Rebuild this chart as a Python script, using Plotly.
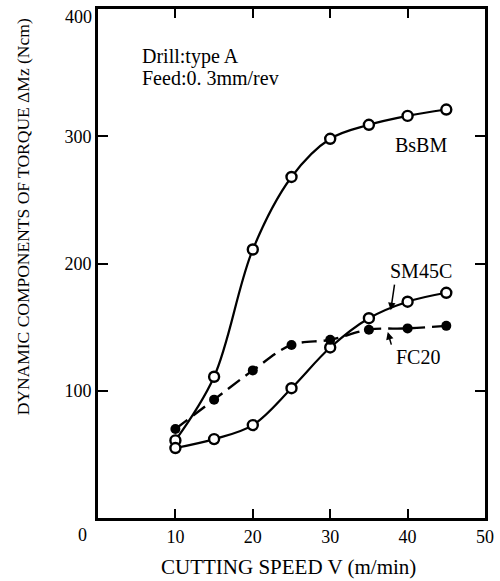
import plotly.graph_objects as go

speed = [10, 15, 20, 25, 30, 35, 40, 45]
bsbm = [61, 111, 211, 268, 298, 309, 316, 321]
sm45c = [55, 62, 73, 102, 134, 157, 170, 177]
fc20 = [70, 93, 116, 136, 140, 148, 149, 151]

x_ticks = [10, 20, 30, 40, 50]
y_ticks = [100, 200, 300, 400]

SERIF = "Liberation Serif"
W, H = 500, 581
L, R, T, B = 98, 12, 6, 63
pw, ph = W - L - R, H - T - B


def px2paper(px, py):
    return (px - L) / pw, (H - B - py) / ph


fig = go.Figure()
fig.add_trace(go.Scatter(
    x=speed, y=bsbm, mode="lines+markers", name="BsBM",
    line=dict(color="black", width=2.2, shape="spline", smoothing=1),
    marker=dict(symbol="circle", size=10, color="white", line=dict(width=2.4, color="black")),
))
fig.add_trace(go.Scatter(
    x=speed, y=sm45c, mode="lines+markers", name="SM45C",
    line=dict(color="black", width=2.2, shape="spline", smoothing=1),
    marker=dict(symbol="circle", size=10, color="white", line=dict(width=2.4, color="black")),
))
fig.add_trace(go.Scatter(
    x=speed, y=fc20, mode="lines+markers", name="FC20",
    line=dict(color="black", width=2.4, shape="spline", smoothing=1, dash="15px,7px"),
    marker=dict(symbol="circle", size=10, color="black"),
))

annotations = []


def text_at(px, py, text, size, angle=0, xanchor="center"):
    ax_, ay_ = px2paper(px, py)
    annotations.append(dict(
        x=ax_, y=ay_, xref="paper", yref="paper", text=text, showarrow=False,
        font=dict(family=SERIF, size=size, color="black"), textangle=angle,
        xanchor=xanchor, yanchor="middle",
    ))


text_at(140, 54, "Drill:type A", 20, xanchor="left")
text_at(140, 75, "Feed:0. 3mm/rev", 20, xanchor="left")
text_at(423, 143, "BsBM", 20)
text_at(423, 270, "SM45C", 20)
text_at(420, 356, "FC20", 20)
text_at(82, 535, "0", 18)
text_at(78, 14, "400", 18)
text_at(290, 567, "CUTTING SPEED V (m/min)", 21)
text_at(22, 215, "DYNAMIC COMPONENTS OF TORQUE ΔMz (Ncm)", 17.5, angle=-90)


def arrow(head_px, head_py, tail_px, tail_py):
    hx, hy = px2paper(head_px, head_py)
    annotations.append(dict(
        x=hx, y=hy, xref="paper", yref="paper", text="", showarrow=True,
        ax=tail_px - head_px, ay=tail_py - head_py, axref="pixel", ayref="pixel",
        arrowhead=2, arrowsize=1, arrowwidth=1.5, arrowcolor="black",
    ))


arrow(393, 309, 397, 282)
arrow(390, 331, 394, 345)

fig.update_layout(
    width=W, height=H,
    margin=dict(l=L, r=R, t=T, b=B, pad=0),
    paper_bgcolor="white", plot_bgcolor="white",
    showlegend=False,
    font=dict(family=SERIF, size=18, color="black"),
    annotations=annotations,
    xaxis=dict(
        range=[0, 50], tickvals=x_ticks, ticktext=[str(v) for v in x_ticks],
        ticks="inside", ticklen=9, tickwidth=2, tickcolor="black",
        showline=True, linecolor="black", linewidth=2.8, mirror="ticks",
        showgrid=False, zeroline=False,
        tickfont=dict(family=SERIF, size=18, color="black"),
    ),
    yaxis=dict(
        range=[0, 400], tickvals=y_ticks,
        ticktext=[str(v) if v < 400 else "" for v in y_ticks],
        ticks="inside", ticklen=10, tickwidth=2, tickcolor="black",
        showline=True, linecolor="black", linewidth=2.8, mirror="ticks",
        showgrid=False, zeroline=False,
        tickfont=dict(family=SERIF, size=18, color="black"),
    ),
)

fig.write_html("out.html")
